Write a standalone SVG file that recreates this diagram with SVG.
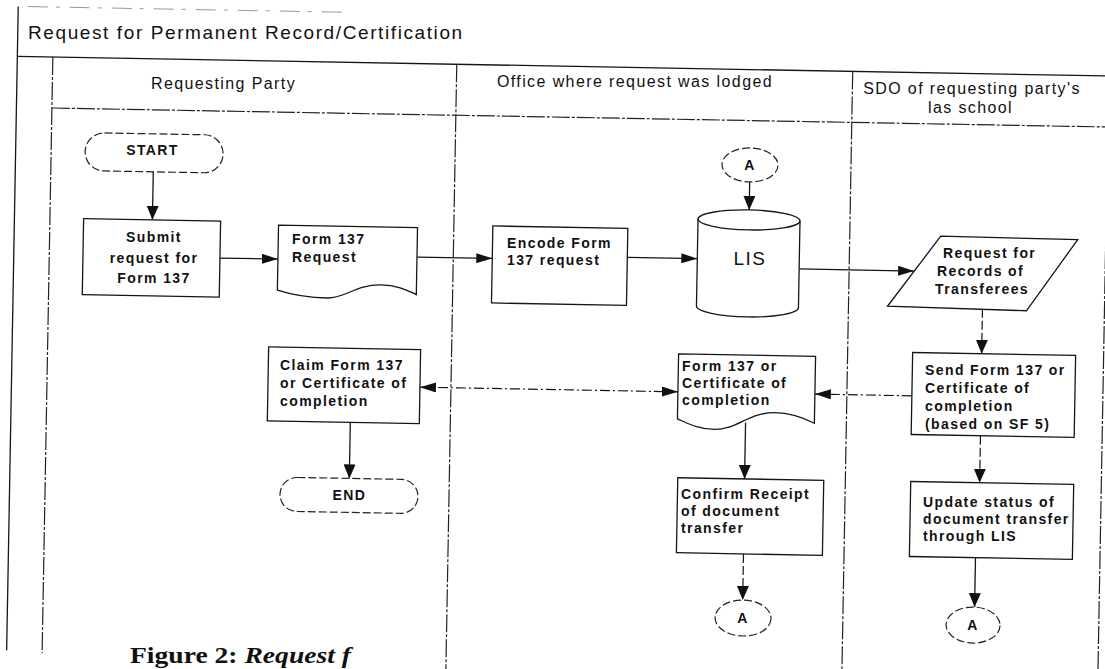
<svg xmlns="http://www.w3.org/2000/svg" width="1105" height="669" viewBox="0 0 1105 669">
<style>
.lane{fill:none;stroke:#222;stroke-width:1.2;stroke-dasharray:18 2 3 2}
.ln{fill:none;stroke:#151515;stroke-width:1.3}
.dash{fill:none;stroke:#151515;stroke-width:1.2;stroke-dasharray:9 3}
.dd{fill:none;stroke:#151515;stroke-width:1.2;stroke-dasharray:10 3 2 3}
.box{fill:#fff;stroke:#151515;stroke-width:1.3}
.term{fill:#fff;stroke:#222;stroke-width:1.2;stroke-dasharray:8 3}
.t{font-family:"Liberation Sans",Arial,sans-serif;font-weight:700;font-size:14px;letter-spacing:1.4px;fill:#111}
.h{font-family:"Liberation Sans",Arial,sans-serif;font-size:16px;letter-spacing:1.4px;fill:#111}
.c{text-anchor:middle}
</style>
<defs>
<marker id="ah" viewBox="0 0 16 10" refX="16" refY="5" markerWidth="16" markerHeight="10" markerUnits="userSpaceOnUse" orient="auto-start-reverse"><path d="M0,0 L16,5 L0,10 z" fill="#111"/></marker>
<marker id="av" viewBox="0 0 14 12" refX="14" refY="6" markerWidth="14" markerHeight="12" markerUnits="userSpaceOnUse" orient="auto"><path d="M0,0 L14,6 L0,12 z" fill="#111"/></marker>
</defs>
<rect width="1105" height="669" fill="#fff"/>
<g id="frame">
<g transform="rotate(1.03 550 330)">
<line x1="22" y1="16" x2="340" y2="16" stroke="#999" stroke-width="1" stroke-dasharray="20 8 4 10"/>
<line class="ln" x1="12.5" y1="16" x2="12.5" y2="660"/>
<line class="ln" x1="12.5" y1="66" x2="1112" y2="66"/>
<line class="lane" x1="48" y1="66" x2="48" y2="662"/>
<line class="lane" x1="48" y1="117" x2="1112" y2="117"/>
<line class="lane" x1="452" y1="66" x2="452" y2="690"/>
<line class="lane" x1="848" y1="66" x2="848" y2="690"/>
<line class="lane" x1="1104" y1="66" x2="1104" y2="690"/>
</g>
<text x="28" y="39" font-family="Liberation Sans, Arial, sans-serif" font-size="19" letter-spacing="1.6" fill="#111">Request for Permanent Record/Certification</text>
<text class="h c" x="223.5" y="89">Requesting Party</text>
<text class="h c" x="635" y="87">Office where request was lodged</text>
<text class="h c" x="972" y="94">SDO of requesting party's</text>
<text class="h c" x="970.5" y="113">las school</text>
</g>
<g id="connectors" transform="rotate(1.03 550 330)">
<line class="ln" x1="150.5" y1="179" x2="150.5" y2="227" marker-end="url(#av)"/>
<line class="ln" x1="218.7" y1="264" x2="276.7" y2="264" marker-end="url(#ah)"/>
<line class="ln" x1="415.7" y1="259.5" x2="491" y2="259.5" marker-end="url(#ah)"/>
<line class="ln" x1="626" y1="256" x2="696" y2="256" marker-end="url(#ah)"/>
<line class="ln" x1="798" y1="264.5" x2="913" y2="264.5" marker-end="url(#ah)"/>
<line class="ln" x1="747" y1="178.4" x2="747" y2="206.4" marker-end="url(#av)"/>
<line class="dash" x1="982" y1="301" x2="982" y2="346" marker-end="url(#av)"/>
<line class="dd" x1="913" y1="389.3" x2="816" y2="389.3" marker-end="url(#ah)"/>
<line class="dd" x1="421" y1="389.5" x2="679" y2="389.5" marker-start="url(#ah)" marker-end="url(#ah)"/>
<line class="ln" x1="352" y1="426" x2="352" y2="482" marker-end="url(#av)"/>
<line class="ln" x1="747.2" y1="419" x2="747.2" y2="475.4" marker-end="url(#av)"/>
<line class="dash" x1="747.5" y1="550.4" x2="747.5" y2="596.5" marker-end="url(#av)"/>
<line class="dash" x1="982.3" y1="428" x2="982.3" y2="475" marker-end="url(#av)"/>
<line class="ln" x1="979.5" y1="550" x2="979.5" y2="599.4" marker-end="url(#av)"/>
</g>
<g id="start">
<rect class="term" x="82" y="141" width="138" height="38" rx="19" transform="rotate(1.03 550 330)"/>
<text class="t c" x="152.5" y="155" letter-spacing="2.4">START</text>
</g>
<g id="submit">
<rect class="box" x="81.7" y="227" width="137" height="76" transform="rotate(1.03 550 330)"/>
<text class="t c" x="154" y="242">Submit</text>
<text class="t c" x="154" y="263">request for</text>
<text class="t c" x="154" y="283">Form 137</text>
</g>
<g id="form137request">
<path class="box" transform="rotate(1.03 550 330)" d="M276.7,230 H415.7 V297 C405,292 395,288 380,288 C355,288 345,302 327,302 C305,302 290,299 276.7,295 Z"/>
<text class="t" x="292" y="244">Form 137</text>
<text class="t" x="292" y="262">Request</text>
</g>
<g id="encode">
<rect class="box" x="491" y="227" width="135" height="77" transform="rotate(1.03 550 330)"/>
<text class="t" x="507" y="248">Encode Form</text>
<text class="t" x="507" y="265">137 request</text>
</g>
<g id="lis">
<g transform="rotate(1.03 550 330)">
<path class="box" d="M696,216.4 V303.4 A51,10 0 0 0 798,303.4 V216.4 A51,10 0 0 0 696,216.4 Z"/>
<path class="ln" d="M696,216.4 A51,10 0 0 0 798,216.4"/>
</g>
<text x="750" y="265" text-anchor="middle" font-family="Liberation Sans, Arial, sans-serif" font-size="19" letter-spacing="1.5" fill="#111">LIS</text>
</g>
<g id="connA1">
<ellipse class="term" cx="747" cy="161.4" rx="28" ry="17" transform="rotate(1.03 550 330)"/>
<text class="t c" x="750" y="170" letter-spacing="0">A</text>
</g>
<g id="requestRecords">
<path class="box" transform="rotate(1.03 550 330)" d="M939,229.2 L1076,230.2 L1026,302.2 L887,300.2 Z"/>
<text class="t" x="943" y="258">Request for</text>
<text class="t" x="937" y="276">Records of</text>
<text class="t" x="935" y="294">Transferees</text>
</g>
<g id="send">
<rect class="box" x="913" y="346" width="163" height="82" transform="rotate(1.03 550 330)"/>
<text class="t" x="925" y="375">Send Form 137 or</text>
<text class="t" x="925" y="393">Certificate of</text>
<text class="t" x="925" y="411">completion</text>
<text class="t" x="925" y="429">(based on SF 5)</text>
</g>
<g id="form137cert">
<path class="box" transform="rotate(1.03 550 330)" d="M679,351.5 H816 V418.5 C805,413 792,408.5 776,408.5 C750,409 738,426.5 716,426.5 C700,426.5 690,421 679,416.5 Z"/>
<text class="t" x="682" y="371">Form 137 or</text>
<text class="t" x="682" y="388">Certificate of</text>
<text class="t" x="682" y="405">completion</text>
</g>
<g id="claim">
<rect class="box" x="269" y="352" width="152" height="74" transform="rotate(1.03 550 330)"/>
<text class="t" x="280" y="370">Claim Form 137</text>
<text class="t" x="280" y="388">or Certificate of</text>
<text class="t" x="280" y="406">completion</text>
</g>
<g id="end">
<rect class="term" x="283" y="482" width="138" height="34" rx="17" transform="rotate(1.03 550 330)"/>
<text class="t c" x="349.5" y="500" letter-spacing="2.4">END</text>
</g>
<g id="confirm">
<rect class="box" x="680.4" y="475.4" width="146" height="75" transform="rotate(1.03 550 330)"/>
<text class="t" x="681" y="499">Confirm Receipt</text>
<text class="t" x="681" y="516">of document</text>
<text class="t" x="681" y="533">transfer</text>
</g>
<g id="update">
<rect class="box" x="913.4" y="475" width="163" height="75" transform="rotate(1.03 550 330)"/>
<text class="t" x="923" y="507">Update status of</text>
<text class="t" x="923" y="524">document transfer</text>
<text class="t" x="923" y="541">through LIS</text>
</g>
<g id="connA2">
<ellipse class="term" cx="748.2" cy="614.5" rx="28" ry="18" transform="rotate(1.03 550 330)"/>
<text class="t c" x="743" y="623" letter-spacing="0">A</text>
</g>
<g id="connA3">
<ellipse class="term" cx="978.3" cy="617.4" rx="27" ry="18" transform="rotate(1.03 550 330)"/>
<text class="t c" x="973" y="630" letter-spacing="0">A</text>
</g>
<text x="130" y="663" font-family="Liberation Serif, Times New Roman, serif" font-size="24" font-weight="700" fill="#111" textLength="221" lengthAdjust="spacingAndGlyphs">Figure 2: <tspan font-style="italic">Request f</tspan></text>
</svg>
